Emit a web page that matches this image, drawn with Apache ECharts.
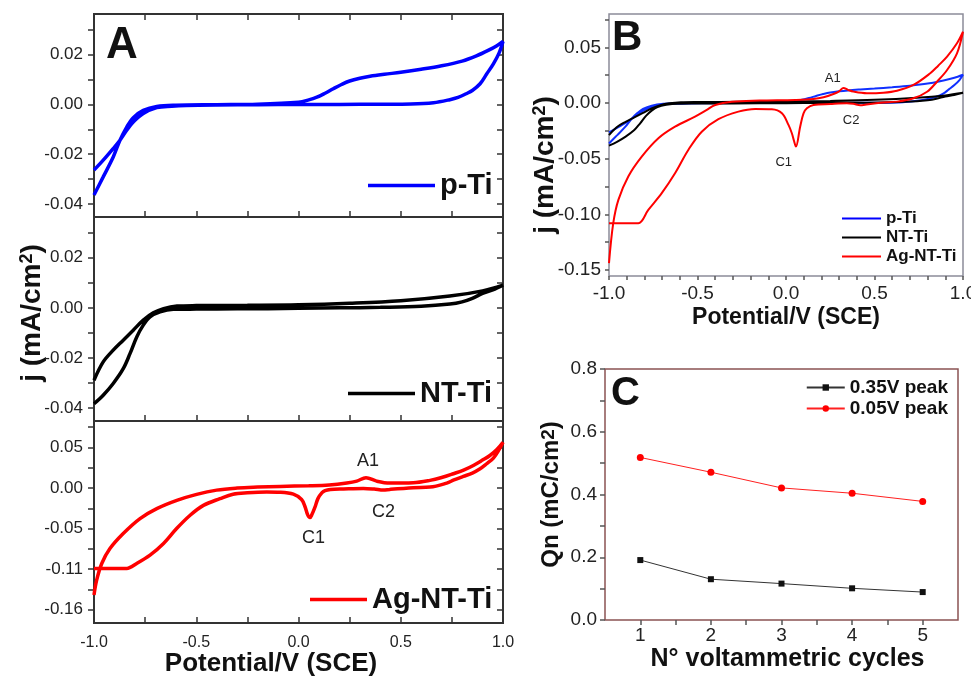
<!DOCTYPE html>
<html lang="en">
  <head>
    <meta charset="utf-8">
    <title>CV of p-Ti, NT-Ti and Ag-NT-Ti</title>
    <script src="https://cdn.jsdelivr.net/npm/echarts@6.0.0/dist/echarts.min.js"></script>
    <style>
      html, body { margin: 0; padding: 0; background: #fff; }
    </style>
  </head>
  <body>
    <div id="cvChart" style="width: 971px;height:677px;"></div>
    <script type="text/javascript">
    // [potential V vs SCE, j mA/cm2], anodic sweep first then cathodic sweep back
    var pTiData = [
        [-1, -0.0364], [-0.955, -0.0291], [-0.906, -0.0211], [-0.873, -0.0144], [-0.84, -0.0091],
        [-0.808, -0.0053], [-0.759, -0.0024], [-0.693, -0.0008], [-0.6, -0.0003], [-0.4, -0.0001],
        [-0.2, 0.0001], [0, 0.0009], [0.05, 0.0018], [0.09, 0.0029], [0.13, 0.0045], [0.17, 0.0063],
        [0.21, 0.008], [0.25, 0.0094], [0.3, 0.0105], [0.35, 0.0113], [0.42, 0.0121], [0.5, 0.0129],
        [0.6, 0.0141], [0.7, 0.0155], [0.8, 0.0174], [0.87, 0.0195], [0.93, 0.0218], [0.97, 0.0236],
        [1, 0.0253],
        [0.98, 0.0205], [0.953, 0.0163], [0.92, 0.0122], [0.888, 0.0083], [0.85, 0.0056], [0.82, 0.0043],
        [0.78, 0.0028], [0.74, 0.0019], [0.66, 0.0007], [0.55, 0.0002], [0.4, 0.0001], [0.2, 0],
        [0, 0], [-0.2, -0.0001], [-0.4, -0.0002], [-0.55, -0.0004], [-0.62, -0.0007], [-0.693, -0.0013],
        [-0.759, -0.0037], [-0.808, -0.0071], [-0.84, -0.0104], [-0.873, -0.0144], [-0.906, -0.0177],
        [-0.955, -0.0224], [-1, -0.0264]
    ];
    var ntTiData = [
        [-1, -0.0289], [-0.955, -0.0216], [-0.906, -0.0169], [-0.857, -0.0129], [-0.808, -0.0089],
        [-0.759, -0.0049], [-0.71, -0.002], [-0.66, -0.0003], [-0.594, 0.0007], [-0.5, 0.0009],
        [-0.25, 0.001], [0, 0.0012], [0.25, 0.0018], [0.5, 0.0028], [0.74, 0.0047], [0.9, 0.0068],
        [1, 0.0091],
        [0.95, 0.0072], [0.9, 0.0058], [0.85, 0.0038], [0.8, 0.0024], [0.74, 0.0015], [0.6, 0.0006],
        [0.4, 0.0002], [0.2, 0], [0, -0.0002], [-0.3, -0.0004], [-0.5, -0.0005], [-0.612, -0.0006],
        [-0.677, -0.0016], [-0.726, -0.0036], [-0.759, -0.0069], [-0.791, -0.0116], [-0.824, -0.0183],
        [-0.857, -0.0243], [-0.906, -0.0302], [-0.955, -0.0349], [-1, -0.0383]
    ];
    // Ag-NT-Ti as drawn in panel A (its own axis units)
    var agTiDataA = [
        [-1, -0.1318], [-0.987, -0.1134], [-0.962, -0.0929], [-0.922, -0.0745], [-0.857, -0.056],
        [-0.775, -0.0376], [-0.693, -0.0253], [-0.595, -0.0151], [-0.498, -0.0077], [-0.4, -0.0025],
        [-0.3, 0], [-0.2, 0.0012], [-0.09, 0.0021], [0.05, 0.0028], [0.15, 0.0038], [0.236, 0.0062],
        [0.285, 0.0086], [0.33, 0.0128], [0.382, 0.0086], [0.447, 0.0062], [0.561, 0.0066],
        [0.643, 0.0095], [0.7, 0.013], [0.757, 0.0177], [0.81, 0.0225], [0.855, 0.0279], [0.9, 0.0345],
        [0.936, 0.0402], [0.97, 0.0475], [1, 0.0565],
        [0.98, 0.047], [0.953, 0.037], [0.92, 0.03], [0.888, 0.0238], [0.85, 0.0185], [0.806, 0.0144],
        [0.76, 0.01], [0.725, 0.0062], [0.643, 0.0012], [0.561, 0.0005], [0.447, -0.0016],
        [0.415, -0.0025], [0.37, -0.0012], [0.317, -0.0004], [0.22, -0.001], [0.156, -0.0016],
        [0.13, -0.003], [0.115, -0.0057], [0.095, -0.013], [0.081, -0.0233], [0.065, -0.033],
        [0.056, -0.0364], [0.045, -0.033], [0.032, -0.023], [0.015, -0.014], [-0.025, -0.0075],
        [-0.09, -0.0052], [-0.155, -0.0049], [-0.25, -0.0058], [-0.32, -0.0075], [-0.384, -0.013],
        [-0.465, -0.0213], [-0.53, -0.0335], [-0.596, -0.0499], [-0.66, -0.0683], [-0.726, -0.0827],
        [-0.791, -0.0929], [-0.84, -0.099], [-0.9, -0.099], [-1, -0.099]
    ];
    // Ag-NT-Ti as drawn in panel B
    var agTiDataB = [
        [-1, -0.1439], [-0.976, -0.108], [-0.947, -0.087], [-0.891, -0.066], [-0.815, -0.0482],
        [-0.721, -0.0317], [-0.627, -0.0213], [-0.514, -0.0123], [-0.45, -0.0065], [-0.4, -0.0018],
        [-0.306, 0.0012], [-0.15, 0.0022], [0.052, 0.0027], [0.155, 0.0035], [0.212, 0.0051],
        [0.268, 0.0081], [0.3, 0.0105], [0.325, 0.0135], [0.35, 0.0118], [0.381, 0.0102],
        [0.457, 0.0087], [0.55, 0.0092], [0.627, 0.011], [0.72, 0.0162], [0.815, 0.0267],
        [0.86, 0.0335], [0.91, 0.0416], [0.966, 0.0536], [1, 0.064],
        [0.966, 0.0446], [0.91, 0.0296], [0.853, 0.0191], [0.797, 0.0101], [0.72, 0.0042],
        [0.627, 0.0012], [0.533, 0.0003], [0.438, -0.0018], [0.42, -0.002], [0.38, -0.0008],
        [0.344, -0.0003], [0.25, -0.0009], [0.155, -0.0018], [0.118, -0.0048], [0.099, -0.0093],
        [0.08, -0.0213], [0.056, -0.0392], [0.045, -0.034], [0.033, -0.0272], [0.014, -0.0197],
        [-0.023, -0.0093], [-0.08, -0.0057], [-0.174, -0.0054], [-0.269, -0.0078], [-0.382, -0.0146],
        [-0.476, -0.0258], [-0.552, -0.0422], [-0.627, -0.0631], [-0.702, -0.081], [-0.778, -0.096],
        [-0.834, -0.108], [-0.9, -0.108], [-1, -0.108]
    ];

    // panel C
    var cycles = [1, 2, 3, 4, 5];
    var peak035 = [0.191, 0.130, 0.116, 0.101, 0.089];
    var peak005 = [0.518, 0.471, 0.421, 0.404, 0.378];

    // peak labels [text, potential, j]
    var peakLabelsA = [['A1', 0.34, 0.033], ['C2', 0.416, -0.030], ['C1', 0.073, -0.061]];
    var peakLabelsB = [['A1', 0.264, 0.0224], ['C2', 0.368, -0.0157], ['C1', -0.013, -0.053]];

    // ticks and tick labels
    var potTicksA = [-1, -0.75, -0.5, -0.25, 0, 0.25, 0.5, 0.75, 1];
    var potTicksB = [-1, -0.9, -0.8, -0.7, -0.6, -0.5, -0.4, -0.3, -0.2, -0.1, 0, 0.1, 0.2, 0.3, 0.4, 0.5, 0.6, 0.7, 0.8, 0.9, 1];
    var potLabels = [-1, -0.5, 0, 0.5, 1];
    var jTicksA = [-0.04, -0.03, -0.02, -0.01, 0, 0.01, 0.02, 0.03];
    var jLabelsA = [-0.04, -0.02, 0, 0.02];
    var jTicksAg = [-0.15, -0.125, -0.1, -0.075, -0.05, -0.025, 0, 0.025, 0.05, 0.075];
    var jLabelsAg = [-0.15, -0.1, -0.05, 0, 0.05];
    var jLabelTextAg = ['-0.16', '-0.11', '-0.05', '0.00', '0.05'];
    var jTicksB = [-0.15, -0.125, -0.1, -0.075, -0.05, -0.025, 0, 0.025, 0.05, 0.075];
    var jLabelsB = [-0.15, -0.1, -0.05, 0, 0.05];
    var cycleTicks = [1, 1.5, 2, 2.5, 3, 3.5, 4, 4.5, 5];
    var qnTicks = [0, 0.1, 0.2, 0.3, 0.4, 0.5, 0.6, 0.7, 0.8];
    var qnLabels = [0, 0.2, 0.4, 0.6, 0.8];

    var FONT = '"Liberation Sans", Arial, Helvetica, sans-serif';
    var chart = echarts.init(document.getElementById('cvChart'));

    function gridBox(left, top, width, height, color, bw) {
        return {left: left, top: top, width: width, height: height, show: true,
            borderColor: color, borderWidth: bw, backgroundColor: 'transparent',
            outerBoundsMode: 'none', containLabel: false};
    }

    function valueAxis(o) {
        var ax = {
            type: 'value', gridIndex: o.grid, position: o.pos, min: o.min, max: o.max,
            axisLine: {show: false, onZero: false}, splitLine: {show: false},
            axisTick: {show: true, inside: !!o.inside, length: o.tickLen || 6, customValues: o.ticks,
                lineStyle: {color: o.color || '#333', width: 1.5}},
            axisLabel: {show: !!o.labels, customValues: o.labels, formatter: o.fmt,
                fontSize: o.fontSize || 17, color: '#222', fontFamily: FONT, margin: o.margin || 10},
            nameMoveOverlap: false
        };
        return ax;
    }

    function fix(n) { return function (v) { return v.toFixed(n); }; }

    function peakPoints(list, size) {
        return {
            symbol: 'circle', symbolSize: 0, silent: true,
            label: {show: true, position: 'inside', formatter: '{b}', color: '#222',
                fontSize: size, fontFamily: FONT},
            data: list.map(function (p) { return {name: p[0], coord: [p[1], p[2]]}; })
        };
    }

    function cvSeries(name, data, xi, yi, color, width, mark) {
        var s = {name: name, type: 'line', xAxisIndex: xi, yAxisIndex: yi, data: data,
            symbol: 'none', smooth: 0.35, lineStyle: {color: color, width: width},
            itemStyle: {color: color}, z: 3};
        if (mark) s.markPoint = mark;
        return s;
    }

    var boldName = {fontFamily: FONT, fontWeight: 'bold', color: '#111'};
    function jName(size, supSize) {
        return {
            rich: {
                a: {fontFamily: FONT, fontWeight: 'bold', fontSize: size, color: '#111'},
                sup: {fontFamily: FONT, fontWeight: 'bold', fontSize: supSize, color: '#111', verticalAlign: 'top'}
            }
        };
    }

    var xAxes = [
        valueAxis({grid: 0, pos: 'bottom', min: -1, max: 1, inside: true, ticks: potTicksA}),
        valueAxis({grid: 0, pos: 'top', min: -1, max: 1, inside: true, ticks: potTicksA}),
        valueAxis({grid: 1, pos: 'bottom', min: -1, max: 1, inside: true, ticks: potTicksA}),
        valueAxis({grid: 2, pos: 'bottom', min: -1, max: 1, inside: true, ticks: potTicksA,
            labels: potLabels, fmt: fix(1), fontSize: 16, margin: 12}),
        valueAxis({grid: 3, pos: 'bottom', min: -1, max: 1, ticks: potTicksB, tickLen: 4,
            labels: potLabels, fmt: fix(1), fontSize: 19, margin: 8, color: '#555'}),
        valueAxis({grid: 4, pos: 'bottom', min: 0.5, max: 5.5, ticks: cycleTicks, tickLen: 5,
            labels: cycles, fmt: fix(0), fontSize: 19, margin: 6, color: '#555'})
    ];
    xAxes[3].name = 'Potential/V (SCE)';
    xAxes[3].nameLocation = 'middle';
    xAxes[3].nameGap = 28;
    xAxes[3].nameTextStyle = Object.assign({fontSize: 26, padding: [0, 55, 0, 0]}, boldName);
    xAxes[4].name = 'Potential/V (SCE)';
    xAxes[4].nameLocation = 'middle';
    xAxes[4].nameGap = 30;
    xAxes[4].nameTextStyle = Object.assign({fontSize: 23}, boldName);
    xAxes[5].name = 'N° voltammetric cycles';
    xAxes[5].nameLocation = 'middle';
    xAxes[5].nameGap = 27;
    xAxes[5].nameTextStyle = Object.assign({fontSize: 25, padding: [0, 0, 0, 12]}, boldName);

    var jRangeA = {min: -0.0452, max: 0.0363};
    var yAxes = [
        valueAxis({grid: 0, pos: 'left', min: jRangeA.min, max: jRangeA.max, ticks: jTicksA,
            labels: jLabelsA, fmt: fix(2), margin: 11}),
        valueAxis({grid: 0, pos: 'right', min: jRangeA.min, max: jRangeA.max, inside: true, ticks: jTicksA}),
        valueAxis({grid: 1, pos: 'left', min: jRangeA.min, max: jRangeA.max, ticks: jTicksA,
            labels: jLabelsA, fmt: fix(2), margin: 11}),
        valueAxis({grid: 1, pos: 'right', min: jRangeA.min, max: jRangeA.max, inside: true, ticks: jTicksA}),
        valueAxis({grid: 2, pos: 'left', min: -0.1663, max: 0.0827, ticks: jTicksAg,
            labels: jLabelsAg, margin: 11,
            fmt: function (v) { return jLabelTextAg[jLabelsAg.indexOf(+v.toFixed(2))]; }}),
        valueAxis({grid: 2, pos: 'right', min: -0.1663, max: 0.0827, inside: true, ticks: jTicksAg}),
        valueAxis({grid: 3, pos: 'left', min: -0.1554, max: 0.0799, ticks: jTicksB, tickLen: 4,
            labels: jLabelsB, fmt: fix(2), fontSize: 19, margin: 8, color: '#555'}),
        valueAxis({grid: 4, pos: 'left', min: 0, max: 0.8, ticks: qnTicks, tickLen: 5,
            labels: qnLabels, fmt: fix(1), fontSize: 19, margin: 8, color: '#555'})
    ];
    yAxes[2].name = '{a|j (mA/cm}{sup|2}{a|)}';
    yAxes[2].nameLocation = 'middle';
    yAxes[2].nameRotate = 90;
    yAxes[2].nameGap = 48;
    yAxes[2].nameTextStyle = Object.assign({padding: [0, 0, 0, 12]}, jName(28, 18));
    yAxes[6].name = '{a|j (mA/cm}{sup|2}{a|)}';
    yAxes[6].nameLocation = 'middle';
    yAxes[6].nameRotate = 90;
    yAxes[6].nameGap = 50;
    yAxes[6].nameTextStyle = Object.assign({padding: [0, 40, 0, 0]}, jName(28, 18));
    yAxes[7].name = '{a|Qn (mC/cm}{sup|2}{a|)}';
    yAxes[7].nameLocation = 'middle';
    yAxes[7].nameRotate = 90;
    yAxes[7].nameGap = 42;
    yAxes[7].nameTextStyle = jName(24, 19);

    var legendText = function (size) {
        return {fontFamily: FONT, fontWeight: 'bold', fontSize: size, color: '#111'};
    };

    var option = {
        animation: false,
        backgroundColor: '#fff',
        textStyle: {fontFamily: FONT},
        grid: [
            gridBox(94, 14, 409, 203, '#333', 2),
            gridBox(94, 217, 409, 204, '#333', 2),
            gridBox(94, 421, 409, 202, '#333', 2),
            gridBox(609, 14, 354, 262, '#8c8c99', 1.5),
            gridBox(605, 369, 353, 251, '#8b5353', 1.5)
        ],
        xAxis: xAxes,
        yAxis: yAxes,
        legend: [
            {data: ['p-Ti'], left: 363, top: 166, icon: 'rect', itemWidth: 67, itemHeight: 3.5,
                textStyle: legendText(29)},
            {data: ['NT-Ti'], left: 343, top: 374, icon: 'rect', itemWidth: 67, itemHeight: 3.5,
                textStyle: legendText(29)},
            {data: ['Ag-NT-Ti'], left: 305, top: 580, icon: 'rect', itemWidth: 57, itemHeight: 3.5,
                textStyle: legendText(29)},
            {data: ['p-Ti', 'NT-Ti', 'Ag-NT-Ti'], orient: 'vertical', left: 837, top: 205, icon: 'rect',
                itemWidth: 39, itemHeight: 2, itemGap: 2, textStyle: legendText(17)},
            {data: ['0.35V peak', '0.05V peak'], orient: 'vertical', right: 18, top: 373,
                itemWidth: 38, itemHeight: 8, itemGap: 2, textStyle: legendText(19)}
        ],
        graphic: [
            {type: 'text', left: 106, top: 24, style: {text: 'A', fontSize: 44, fontWeight: 'bold', fontFamily: FONT, fill: '#111'}},
            {type: 'text', left: 612, top: 17, style: {text: 'B', fontSize: 42, fontWeight: 'bold', fontFamily: FONT, fill: '#111'}},
            {type: 'text', left: 611, top: 374, style: {text: 'C', fontSize: 40, fontWeight: 'bold', fontFamily: FONT, fill: '#111'}}
        ],
        series: [
            cvSeries('p-Ti', pTiData, 0, 0, '#0000ff', 3.5),
            cvSeries('NT-Ti', ntTiData, 2, 2, '#000000', 3.5),
            cvSeries('Ag-NT-Ti', agTiDataA, 3, 4, '#ff0000', 3.5, peakPoints(peakLabelsA, 18)),
            cvSeries('p-Ti', pTiData, 4, 6, '#1030ff', 2),
            cvSeries('NT-Ti', ntTiData, 4, 6, '#000000', 2),
            cvSeries('Ag-NT-Ti', agTiDataB, 4, 6, '#ff0000', 2, peakPoints(peakLabelsB, 13)),
            {name: '0.35V peak', type: 'line', xAxisIndex: 5, yAxisIndex: 7,
                data: cycles.map(function (c, i) { return [c, peak035[i]]; }),
                symbol: 'rect', symbolSize: 6, itemStyle: {color: '#111'},
                lineStyle: {color: '#333', width: 1}},
            {name: '0.05V peak', type: 'line', xAxisIndex: 5, yAxisIndex: 7,
                data: cycles.map(function (c, i) { return [c, peak005[i]]; }),
                symbol: 'circle', symbolSize: 7, itemStyle: {color: '#ff0000'},
                lineStyle: {color: '#ff2020', width: 1}}
        ]
    };

    chart.setOption(option);
    </script>
  </body>
</html>
